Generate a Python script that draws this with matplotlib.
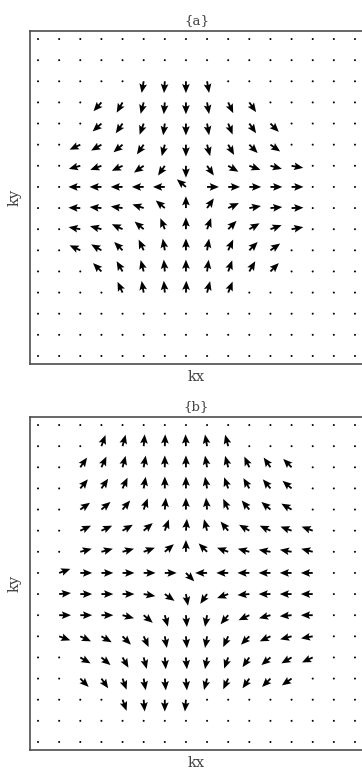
import numpy as np
import matplotlib
matplotlib.use("Agg")
import matplotlib.pyplot as plt

N = None  # no arrow at this grid point, just a dot

# grid of k points (16 x 16), rows listed from top to bottom
kx_vals = list(range(16))
ky_vals = list(range(15, -1, -1))

# arrow directions in degrees (0 = right, 90 = up), panel {a}
angles_a = [
    [N, N, N, N, N, N, N, N, N, N, N, N, N, N, N, N],
    [N, N, N, N, N, N, N, N, N, N, N, N, N, N, N, N],
    [N, N, N, N, N, 260, 266, 270, 280, N, N, N, N, N, N, N],
    [N, N, N, 228, 240, 255, 265, 270, 280, 295, 305, N, N, N, N, N],
    [N, N, N, 222, 235, 250, 262, 270, 280, 292, 305, 315, N, N, N, N],
    [N, N, 205, 210, 220, 235, 255, 270, 285, 300, 315, 325, N, N, N, N],
    [N, N, 195, 200, 205, 215, 235, 270, 305, 330, 340, 345, 350, N, N, N],
    [N, N, 180, 180, 180, 180, 180, 140, 0, 0, 0, 0, 0, N, N, N],
    [N, N, 178, 175, 172, 162, 140, 90, 55, 25, 10, 5, 2, N, N, N],
    [N, N, 170, 165, 155, 140, 112, 90, 70, 45, 30, 20, 10, N, N, N],
    [N, N, 155, 150, 135, 115, 100, 90, 80, 65, 45, 35, N, N, N, N],
    [N, N, N, 135, 120, 105, 95, 90, 82, 70, 60, 45, N, N, N, N],
    [N, N, N, N, 115, 100, 95, 88, 75, 68, N, N, N, N, N, N],
    [N, N, N, N, N, N, N, N, N, N, N, N, N, N, N, N],
    [N, N, N, N, N, N, N, N, N, N, N, N, N, N, N, N],
    [N, N, N, N, N, N, N, N, N, N, N, N, N, N, N, N],
]

# panel {b}
angles_b = [
    [N, N, N, N, N, N, N, N, N, N, N, N, N, N, N, N],
    [N, N, N, 70, 75, 85, 88, 92, 100, 105, N, N, N, N, N, N],
    [N, N, 55, 65, 75, 80, 90, 90, 100, 105, 115, 125, 135, N, N, N],
    [N, N, 50, 55, 65, 80, 90, 90, 100, 110, 120, 130, 140, N, N, N],
    [N, N, 35, 40, 50, 70, 85, 90, 95, 115, 130, 140, 150, N, N, N],
    [N, N, 25, 25, 30, 40, 70, 85, 105, 130, 150, 155, 160, 160, N, N],
    [N, N, 15, 15, 15, 20, 40, 90, 135, 160, 165, 170, 170, 165, N, N],
    [N, 20, 0, 0, 0, 0, 0, 315, 180, 180, 180, 180, 180, 180, N, N],
    [N, 5, 0, 0, 0, 350, 325, 280, 235, 200, 185, 180, 180, 180, N, N],
    [N, 0, 0, 0, 345, 320, 285, 275, 260, 230, 205, 195, 185, 180, N, N],
    [N, 340, 335, 330, 315, 295, 280, 275, 260, 245, 225, 205, 195, 190, N, N],
    [N, N, 330, 320, 300, 285, 275, 275, 260, 250, 235, 220, 210, 205, N, N],
    [N, N, 315, 305, 290, 280, 275, 275, 255, 245, 235, 225, 215, N, N, N],
    [N, N, N, N, 290, 275, 270, 265, N, N, N, N, N, N, N, N],
    [N, N, N, N, N, N, N, N, N, N, N, N, N, N, N, N],
    [N, N, N, N, N, N, N, N, N, N, N, N, N, N, N, N],
]

titles = ["{a}", "{b}"]
x_label = "kx"
y_label = "ky"

plt.rcParams["font.family"] = ["DejaVu Serif"]


def to_uv(angles):
    a = np.array(angles, dtype=float)
    empty = np.isnan(a)
    u = np.cos(np.radians(a))
    v = np.sin(np.radians(a))
    u[empty] = 0.0
    v[empty] = 0.0
    return u, v


def draw_panel(ax, angles, title):
    X, Y = np.meshgrid(kx_vals, ky_vals)
    U, V = to_uv(angles)
    ax.quiver(X, Y, U, V, angles="xy", scale_units="xy", scale=1 / 0.56,
              pivot="tail", width=0.0055, headwidth=4.2, headlength=5.0,
              headaxislength=4.3, minlength=1.2, color="black")
    ax.set_xlim(-0.38, 15.38)
    ax.set_ylim(-0.38, 15.38)
    ax.set_xticks([])
    ax.set_yticks([])
    for side in ["left", "top", "bottom", "right"]:
        ax.spines[side].set_color("#4d4d4d")
        ax.spines[side].set_linewidth(1.2)
    ax.set_title(title, fontsize=9.5, color="#444444", pad=5)
    ax.set_xlabel(x_label, fontsize=10.5, color="#444444", labelpad=4)
    ax.set_ylabel(y_label, fontsize=10.5, color="#444444", labelpad=6)


fig = plt.figure(figsize=(3.62, 7.70), dpi=100)
W, H = 362.0, 770.0
ax_a = fig.add_axes([30 / W, (H - 364) / H, 333 / W, 333 / H])
ax_b = fig.add_axes([30 / W, (H - 750) / H, 333 / W, 333 / H])

draw_panel(ax_a, angles_a, titles[0])
draw_panel(ax_b, angles_b, titles[1])

fig.savefig("out.png", dpi=100)
